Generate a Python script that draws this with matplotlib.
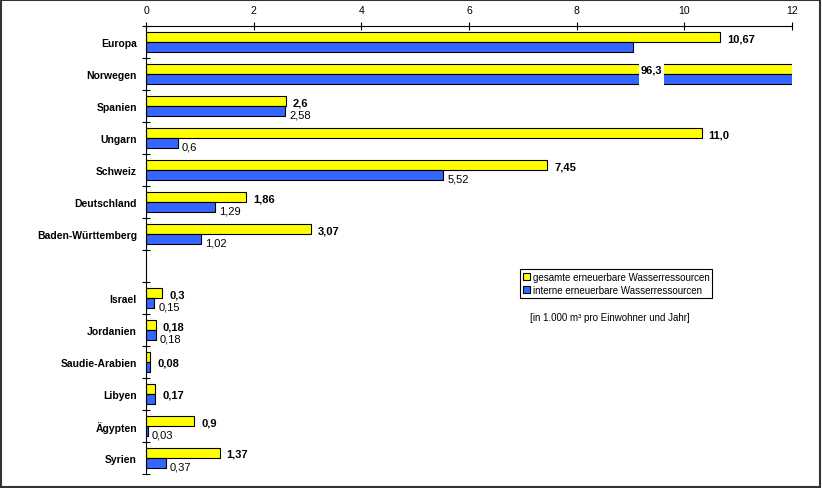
import matplotlib.pyplot as plt
from matplotlib.patches import Rectangle
from matplotlib.ticker import FixedLocator

plt.rcParams['font.family'] = ['Liberation Sans', 'DejaVu Sans']

# categories, None = empty slot between the two groups
categories = ['Europa', 'Norwegen', 'Spanien', 'Ungarn', 'Schweiz', 'Deutschland',
              'Baden-Württemberg', None, 'Israel', 'Jordanien', 'Saudie-Arabien',
              'Libyen', 'Ägypten', 'Syrien']
gesamt = [10.67, 96.3, 2.6, 10.32, 7.45, 1.86, 3.07, 0.3, 0.18, 0.08, 0.17, 0.9, 1.37]
intern = [9.05, 82.2, 2.58, 0.59, 5.52, 1.28, 1.02, 0.15, 0.18, 0.07, 0.17, 0.03, 0.37]
gesamt_labels = ['10,67', '96,3', '2,6', '11,0', '7,45', '1,86', '3,07',
                 '0,3', '0,18', '0,08', '0,17', '0,9', '1,37']
intern_labels = [None, None, '2,58', '0,6', '5,52', '1,29', '1,02',
                 '0,15', '0,18', None, None, '0,03', '0,37']
centered = ['Saudie-Arabien', 'Libyen']   # one label for both bars
xticks = [0, 2, 4, 6, 8, 10, 12]

YELLOW = '#FFFF00'
BLUE = '#3366FF'
h = 0.31

fig = plt.figure(figsize=(8.22, 4.89), dpi=100)
ax = fig.add_axes([146/822, 1 - 475/489, 646/822, 448/489])

names = [c for c in categories if c is not None]
pos = [i for i, c in enumerate(categories) if c is not None]

ax.barh([p - h/2 for p in pos], gesamt, height=h, color=YELLOW,
        edgecolor='black', linewidth=0.8, label='gesamte erneuerbare Wasserressourcen')
ax.barh([p + h/2 for p in pos], intern, height=h, color=BLUE,
        edgecolor='black', linewidth=0.8, label='interne erneuerbare Wasserressourcen')

for name, p, g, b, gl, bl in zip(names, pos, gesamt, intern, gesamt_labels, intern_labels):
    if name == 'Norwegen':
        # axis break on the clipped bars
        ax.add_patch(Rectangle((9.15, p - h - 0.05), 0.47, 2*h + 0.1,
                               facecolor='white', edgecolor='none', zorder=3))
        ax.text(9.38, p - h/2 + 0.02, gl, ha='center', va='center',
                fontsize=8, fontweight='bold', zorder=4)
        continue
    if name in centered:
        ax.annotate(gl, (max(g, b), p), xytext=(5, 0), textcoords='offset points',
                    ha='left', va='center', fontsize=8, fontweight='bold')
        continue
    ax.annotate(gl, (g, p - h/2 + 0.03), xytext=(5, 0), textcoords='offset points',
                ha='left', va='center', fontsize=8, fontweight='bold')
    if bl:
        ax.annotate(bl, (b, p + h/2 + 0.1), xytext=(3, 0), textcoords='offset points',
                    ha='left', va='center', fontsize=8)

ax.set_xlim(0, 12)
ax.set_ylim(len(categories) - 0.5, -0.5)
ax.xaxis.tick_top()
ax.set_xticks(xticks)
ax.set_xticklabels([str(t) for t in xticks])
ax.tick_params(axis='x', direction='inout', length=6, width=0.8, labelsize=7.5, pad=5)

ax.set_yticks(pos)
ax.set_yticklabels(names, fontsize=7.5, fontweight='bold')
ax.yaxis.set_minor_locator(FixedLocator([i + 0.5 for i in range(-1, len(categories))]))
ax.tick_params(axis='y', which='major', length=0, pad=6.5)
ax.tick_params(axis='y', which='minor', direction='inout', length=6, width=0.8)

for s in ['right', 'bottom']:
    ax.spines[s].set_visible(False)
for s in ['left', 'top']:
    ax.spines[s].set_linewidth(0.8)

leg = ax.legend(loc='upper left', bbox_to_anchor=(520/822, 1 - 270/489),
                bbox_transform=fig.transFigure, fontsize=7, frameon=True,
                fancybox=False, edgecolor='black', framealpha=1,
                handlelength=0.7, handleheight=0.7, handletextpad=0.3,
                borderpad=0.3, labelspacing=0.3, borderaxespad=0)
leg.get_frame().set_linewidth(0.8)

fig.text(530/822, 1 - 318/489, '[in 1.000 m³ pro Einwohner und Jahr]',
         fontsize=7, ha='left', va='center')

fig.patches.append(Rectangle((0.001, 0.002), 0.996, 0.996, transform=fig.transFigure,
                             fill=False, edgecolor='#333333', linewidth=1.5))

fig.savefig('out.png', dpi=100)
